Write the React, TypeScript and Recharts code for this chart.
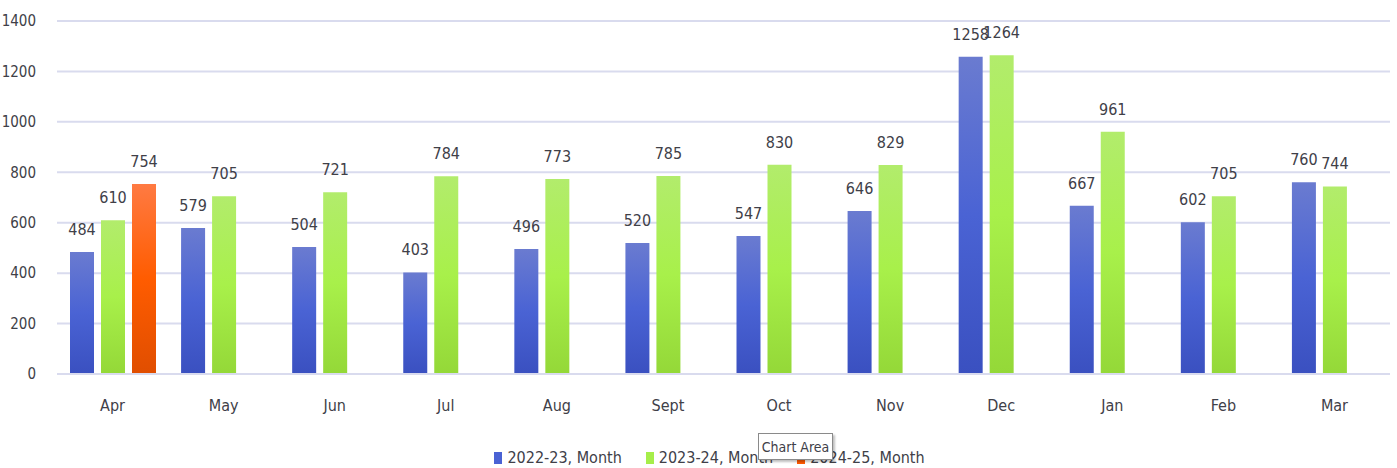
import React from 'react';
import { BarChart, Bar, XAxis, YAxis, CartesianGrid, LabelList } from 'recharts';

const months = ['Apr', 'May', 'Jun', 'Jul', 'Aug', 'Sept', 'Oct', 'Nov', 'Dec', 'Jan', 'Feb', 'Mar'];
const fy2223 = [484, 579, 504, 403, 496, 520, 547, 646, 1258, 667, 602, 760];
const fy2324 = [610, 705, 721, 784, 773, 785, 830, 829, 1264, 961, 705, 744];
const fy2425: (number | null)[] = [754, null, null, null, null, null, null, null, null, null, null, null];
const yTicks = [0, 200, 400, 600, 800, 1000, 1200, 1400];

const SERIES = [
  { key: 'a', name: '2022-23, Month', grad: 'gBlue', swatch: '#4a62d4' },
  { key: 'b', name: '2023-24, Month', grad: 'gGreen', swatch: '#a6ee4a' },
  { key: 'c', name: '2024-25, Month', grad: 'gOrange', swatch: '#ff5a00' },
];

const data = months.map((m, i) => ({ month: m, a: fy2223[i], b: fy2324[i], c: fy2425[i] }));

const FONT = "'DejaVu Sans Condensed', 'Liberation Sans Narrow', sans-serif";
const TEXT = '#404048';

const App: React.FC = () => {
  return (
    <div style={{ position: 'absolute', left: 0, top: 0, width: 1397, height: 468, background: '#fff', fontFamily: FONT }}>
      <BarChart
        width={1397}
        height={468}
        data={data}
        margin={{ top: 21, right: 7, left: 0, bottom: 0 }}
        barSize={24}
        barGap={7}
      >
        <defs>
          <linearGradient id="gBlue" x1="0" y1="0" x2="0" y2="1">
            <stop offset="0%" stopColor="#6a7bd0" />
            <stop offset="50%" stopColor="#4a63d4" />
            <stop offset="100%" stopColor="#3a50c0" />
          </linearGradient>
          <linearGradient id="gGreen" x1="0" y1="0" x2="0" y2="1">
            <stop offset="0%" stopColor="#b2ec6c" />
            <stop offset="50%" stopColor="#a8f04a" />
            <stop offset="100%" stopColor="#94d838" />
          </linearGradient>
          <linearGradient id="gOrange" x1="0" y1="0" x2="0" y2="1">
            <stop offset="0%" stopColor="#ff7a42" />
            <stop offset="50%" stopColor="#ff5c00" />
            <stop offset="100%" stopColor="#e04e00" />
          </linearGradient>
        </defs>
        <CartesianGrid vertical={false} stroke="#d9dbee" strokeWidth={2} />
        <XAxis
          dataKey="month"
          height={94}
          axisLine={{ stroke: '#d9dbee', strokeWidth: 2 }}
          tickLine={false}
          tickMargin={20}
          tick={{ fill: TEXT, fontSize: 16, fontFamily: FONT }}
        />
        <YAxis
          width={57}
          domain={[0, 1400]}
          ticks={yTicks}
          axisLine={false}
          tickLine={false}
          tickMargin={15}
          tick={{ fill: TEXT, fontSize: 15, fontFamily: FONT }}
        />
        {SERIES.map((s) => (
          <Bar key={s.key} dataKey={s.key} name={s.name} fill={`url(#${s.grad})`} isAnimationActive={false}>
            <LabelList dataKey={s.key} position="top" offset={17} fill={TEXT} fontSize={16} fontFamily={FONT} />
          </Bar>
        ))}
      </BarChart>

      <div
        style={{
          position: 'absolute',
          left: 0,
          top: 448,
          width: 1397,
          display: 'flex',
          justifyContent: 'center',
          gap: 24,
          fontSize: 16,
          color: TEXT,
          paddingLeft: 22,
          boxSizing: 'border-box',
        }}
      >
        {SERIES.map((s) => (
          <div key={s.key} style={{ display: 'flex', alignItems: 'center', gap: 5 }}>
            <span style={{ display: 'inline-block', width: 8, height: 12, background: s.swatch }} />
            <span>{s.name}</span>
          </div>
        ))}
      </div>

      <div
        style={{
          position: 'absolute',
          left: 758,
          top: 433,
          width: 75,
          height: 27,
          border: '1px solid #8a8a8a',
          background: '#fff',
          boxShadow: '2px 2px 2px rgba(0,0,0,0.25)',
          fontSize: 14,
          color: TEXT,
          display: 'flex',
          alignItems: 'center',
          justifyContent: 'center',
          boxSizing: 'border-box',
        }}
      >
        Chart Area
      </div>
    </div>
  );
};

export default App;
